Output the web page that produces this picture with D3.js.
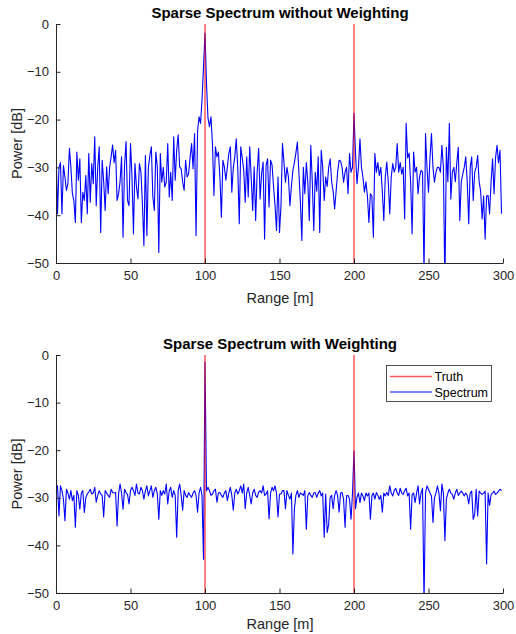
<!DOCTYPE html>
<html><head><meta charset="utf-8">
<script src="https://cdn.jsdelivr.net/npm/d3@7"></script>
<style>body{margin:0;background:#fff}svg{display:block;font-family:"Liberation Sans",Arial,sans-serif}</style>
</head><body><svg id="c" width="516" height="634"></svg>
<script>
const rangeStart = 0;
const truthRanges = [100, 200];
const xTicks = [0, 50, 100, 150, 200, 250, 300];
const yTicks = [0, -10, -20, -30, -40, -50];
const titles = ["Sparse Spectrum without Weighting", "Sparse Spectrum with Weighting"];
const legendLabels = ["Truth", "Spectrum"];

const spectrumNoWeight = [
-25.3,-39.7,-30,-29,-39.7,-29.6,-32,-34.8,-33.4,-26,
-30,-35.5,-37,-41.5,-26.8,-32.7,-28.2,-41.5,-35.2,-36.9,
-31.7,-39.7,-27.1,-37.3,-29.2,-33.4,-23.6,-38,-30,-25.7,
-43.6,-28.5,-33,-39,-29.9,-35.5,-30,-27.8,-25.3,-29,
-26.4,-36.9,-35.5,-33,-27.8,-44.6,-29.6,-24.6,-36.9,-38,
-25,-32,-43.9,-29.2,-34.1,-36.6,-29.2,-31,-37.6,-46.4,
-27.5,-44.3,-30,-27.5,-25.7,-36.2,-39,-26.8,-30,-47.8,
-27.1,-33.1,-30,-34.1,-33.1,-25,-36.2,-31,-36.9,-23.6,
-32.7,-26.4,-23.2,-29.9,-30.3,-33,-34.8,-28.5,-32,-31.3,
-28,-25,-30.3,-22.9,-44.3,-22.5,-19.4,-20.8,-15.9,-9,
-1.9,-12.4,-19.7,-21.5,-19.4,-25,-35.9,-25.7,-27.8,-26.8,
-32,-40.4,-28.5,-29.9,-32.7,-30,-27.1,-25.7,-35.2,-30,
-27.8,-24,-30.3,-41.8,-25.7,-28,-30.6,-37.3,-27.8,-36.2,
-25.7,-32,-39,-29.9,-41.1,-31,-26,-36.6,-31.3,-28.9,
-45,-29.6,-28.2,-38.3,-28.5,-29.5,-34,-38,-43.2,-32,
-43.6,-38,-25,-29,-33.1,-30,-32,-38,-34,-30.6,
-29,-27,-24.7,-31,-37,-45.3,-30,-35.5,-29,-33,
-41.1,-25.4,-33,-43.2,-31,-35,-27.8,-43.6,-26.4,-30,
-36.9,-32,-34,-30,-28.2,-33,-35,-38.7,-35,-31,
-28.5,-28.7,-30,-33.1,-31,-30,-35.5,-27.1,-31,-30,
-18.7,-27,-33.4,-30,-24,-30,-32,-35.2,-33,-36,
-41.5,-35.5,-36,-44.6,-27.1,-31,-29,-31.7,-30,-35,
-41.1,-32,-28.9,-33,-39.7,-32,-29.2,-31,-30,-25,
-31,-29,-31.4,-30,-40.8,-20.8,-28,-27,-33,-43.9,
-26.8,-31,-30,-35.5,-32,-30.6,-31,-52,-22.9,-30,
-35.2,-28,-22.9,-30,-33.1,-31,-30,-30,-31,-25.4,
-30,-55,-25.8,-33,-20.8,-36.6,-31,-30,-33,-29,
-25.8,-41.1,-33,-31.4,-30,-27.8,-33,-41.8,-30,-27.8,
-36.9,-31,-30,-27.5,-33,-35,-40.8,-36,-45,-36,
-35.9,-39.7,-33,-28.2,-35.5,-28,-25.4,-29,-26.4,-39.7
];

const spectrumWeighted = [
-27.5,-27.5,-33.8,-27.5,-28.5,-30.3,-34.8,-28.2,-29,-30.3,
-28.5,-30.6,-29.5,-36.2,-28.5,-29.5,-32.4,-29,-28.5,-33.1,
-30,-29.2,-28.8,-28.2,-29.2,-29,-27.8,-30.9,-29.5,-28.5,
-29.2,-29.5,-34,-28.5,-29,-29.5,-29.9,-28.2,-28.9,-29,
-28.9,-35.9,-29.2,-27.1,-29,-32.4,-28.2,-28.9,-29.3,-31.3,
-28.5,-27.8,-28.5,-29.5,-27.1,-29,-29.2,-27.8,-28.5,-30.3,
-28.5,-27.5,-29.6,-28.5,-27.5,-29.9,-28.5,-27.8,-29.2,-34.5,
-28.5,-29.5,-28.5,-29.2,-27.1,-31.3,-28.5,-27.8,-29.9,-28.5,
-29.5,-38.3,-28.5,-27.1,-29.5,-32.6,-28.5,-29.5,-29.9,-28.9,
-29.5,-29.9,-29,-28.5,-29.5,-33,-29,-27.8,-29.5,-42.9,
-1.5,-28.5,-27.8,-28.5,-29.5,-29.2,-28.5,-28.2,-30.9,-29,
-28.9,-29.5,-29.9,-29,-28.5,-30.6,-29,-27.8,-29.5,-32.6,
-29,-28.2,-29.2,-28.5,-27.5,-29,-27.1,-32.3,-29,-27.8,
-29.5,-31.3,-29,-28.2,-29.5,-29.9,-28.8,-28.5,-29,-27.5,
-29.5,-29.2,-28.5,-34.4,-29,-27.8,-28.5,-27.5,-29,-34,
-29.2,-29.2,-28.5,-28.5,-32.3,-28.5,-29.5,-30.3,-29,-41.8,
-32.3,-29.5,-28.5,-29.9,-29,-29.2,-29.5,-28.5,-36.6,-29.5,
-28.9,-29.5,-29.9,-29,-28.9,-29.9,-29,-28.5,-29.6,-29,
-38.3,-29.2,-37.3,-35.6,-29.9,-29.5,-32.3,-29.5,-28.5,-29.5,
-33,-29,-28.9,-30.3,-36.2,-29.6,-29.5,-30.3,-34.5,-29,
-20.1,-32.3,-29.9,-29,-31,-29,-29.6,-30.6,-29,-29.6,
-29,-34.5,-29.6,-29,-30.3,-28.9,-29.5,-30.3,-29.5,-33,
-29,-29.6,-28.9,-29.5,-27.5,-29,-29.6,-28.5,-28,-29,
-29.5,-28,-29,-29.3,-28.5,-28,-29.6,-29,-36.6,-29.3,
-29,-31,-29,-27.5,-31.3,-29,-28,-52,-29,-27.5,
-28.2,-29,-29.6,-35.2,-30,-29,-27.5,-29,-32.7,-27.1,
-29,-39,-30.3,-29,-28.2,-29,-29.3,-30.3,-29,-28.2,
-29.5,-29,-28.6,-29,-29.6,-29,-29.5,-31.3,-29,-28.6,
-34.5,-33.5,-28.2,-33.8,-28.6,-29,-29.3,-29,-28.6,-43.9,
-29,-31.6,-29.3,-29,-28.6,-29.3,-29,-28.6,-28.2,-28.5
];

const svg = d3.select("#c");
const x = d3.scaleLinear().domain([0, 300]).range([56, 503]);
const panels = [
  {series: spectrumNoWeight, top: 24, bottom: 263, title: titles[0], legend: false},
  {series: spectrumWeighted, top: 355, bottom: 593, title: titles[1], legend: true}
];
const axisColor = "#262626";

panels.forEach((p, i) => {
  const y = d3.scaleLinear().domain([-50, 0]).range([p.bottom, p.top]);
  const g = svg.append("g");
  const clipId = "clip" + i;
  svg.append("defs").append("clipPath").attr("id", clipId)
    .append("rect").attr("x", 56).attr("y", p.top).attr("width", 447).attr("height", p.bottom - p.top);

  const line = d3.line().x((d, j) => x(rangeStart + j)).y(d => y(d));
  g.append("path").datum(p.series).attr("d", line)
    .attr("fill", "none").attr("stroke", "#0000ff").attr("stroke-width", 1.1)
    .attr("stroke-linejoin", "round").attr("clip-path", `url(#${clipId})`);

  g.selectAll(".truth").data(truthRanges).enter().append("line")
    .attr("x1", d => x(d)).attr("x2", d => x(d)).attr("y1", y(0)).attr("y2", y(-50))
    .attr("stroke", "#ff0000").attr("stroke-opacity", 0.65).attr("stroke-width", 1.5);

  const xa = g.append("g").attr("transform", `translate(0,${p.bottom})`)
    .call(d3.axisBottom(x).tickValues(xTicks).tickSizeInner(-4.5).tickSizeOuter(0).tickPadding(8));
  const ya = g.append("g").attr("transform", `translate(56,0)`)
    .call(d3.axisLeft(y).tickValues(yTicks).tickSizeInner(-4.5).tickSizeOuter(0).tickPadding(7));
  [xa, ya].forEach(a => {
    a.select(".domain").attr("stroke", axisColor);
    a.selectAll(".tick line").attr("stroke", axisColor);
    a.selectAll(".tick text").attr("fill", axisColor).style("font-size", "13px").style("font-family", "Liberation Sans, Arial, sans-serif");
  });

  g.append("text").attr("x", 280).attr("y", p.top - 6).attr("text-anchor", "middle")
    .style("font-weight", "bold").style("font-size", "15px").attr("fill", "#000").text(p.title);
  g.append("text").attr("x", 280).attr("y", Math.min(p.bottom + 40, 629)).attr("text-anchor", "middle")
    .style("font-size", "14.5px").attr("fill", axisColor).text("Range [m]");
  g.append("text").attr("transform", `translate(22,${(p.top + p.bottom) / 2}) rotate(-90)`)
    .attr("text-anchor", "middle").style("font-size", "14.5px").attr("fill", axisColor).text("Power [dB]");

  if (p.legend) {
    const lg = g.append("g");
    lg.append("rect").attr("x", 386.5).attr("y", 365.5).attr("width", 105).attr("height", 36)
      .attr("fill", "#fff").attr("stroke", "#262626").attr("stroke-width", 0.8);
    const colors = ["#ff0000", "#0000ff"];
    legendLabels.forEach((lab, k) => {
      const yy = 376.5 + k * 15.5;
      lg.append("line").attr("x1", 390).attr("x2", 432).attr("y1", yy).attr("y2", yy)
        .attr("stroke", colors[k]).attr("stroke-opacity", k === 0 ? 0.65 : 1).attr("stroke-width", k === 0 ? 1.5 : 1);
      lg.append("text").attr("x", 434.5).attr("y", yy + 4.5).style("font-size", "12.5px")
        .attr("fill", "#000").text(lab);
    });
  }
});
</script></body></html>
